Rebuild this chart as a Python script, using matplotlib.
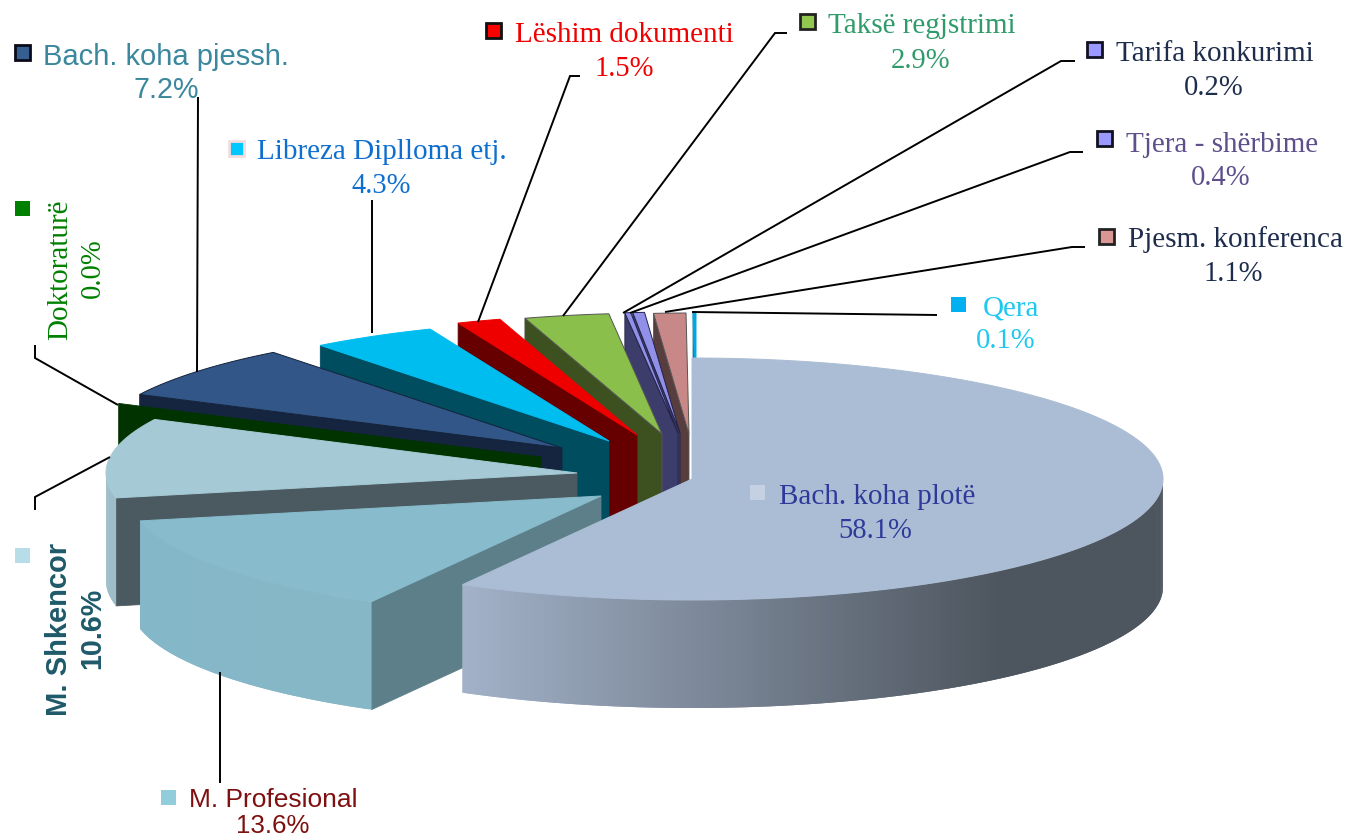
import numpy as np
import matplotlib
matplotlib.use("Agg")
import matplotlib.pyplot as plt
from matplotlib.patches import Polygon, Rectangle
from matplotlib.colors import to_rgb

# ---------- data ----------
categories = ["Bach. koha plotë", "M. Profesional", "M. Shkencor", "Doktoraturë",
              "Bach. koha pjessh.", "Libreza Diplloma etj.", "Lëshim dokumenti",
              "Taksë regjstrimi", "Tarifa konkurimi", "Tjera - shërbime",
              "Pjesm. konferenca", "Qera"]
values = [58.1, 13.6, 10.6, 0.0, 7.2, 4.3, 1.5, 2.9, 0.2, 0.4, 1.1, 0.1]

# ---------- styles ----------
explode_dx = [1, -90, -114, -150, -129, -82, -54, -29, -13, -11, -2, 5]
explode_dy = [0, 17, -6, -22, -31, -38, -44, -45, -46, -46, -45, -45]
top_colors = ["#abbdd4", "#88bccd", "#a6cad5", "#008000", "#315687", "#00bdf0",
              "#ee0000", "#89bf4a", "#9090e8", "#9090e8", "#c88888", "#00a8e0"]
side_colors = ["#5f6b78", "#5c7f89", "#4b5a60", "#003300", "#15253f", "#004d60",
               "#660000", "#3d5020", "#3d3d6b", "#3d3d6b", "#573d3d", "#006a90"]
rim_left = ["#a3b2c9", "#84b7c8", "#9dbdc9", "#003300", "#15253f", "#004d60",
            "#660000", "#3d5020", "#3d3d6b", "#3d3d6b", "#573d3d", "#006a90"]
rim_right = ["#4d555e", "#86b7c7", "#9dbdc9", "#003300", "#15253f", "#004d60",
             "#660000", "#3d5020", "#3d3d6b", "#3d3d6b", "#573d3d", "#006a90"]
edge_colors = [None, None, None, None, "#14233a", None, None, "#555555",
               "#22224a", "#22224a", "#555555", None]

CX, CY, RX, RY, DEPTH = 691, 479, 471, 121, 108

fig = plt.figure(figsize=(13.46, 8.38), dpi=100, facecolor="white")
ax = fig.add_axes([0, 0, 1, 1])
ax.set_xlim(0, 1346)
ax.set_ylim(838, 0)
ax.axis("off")

edges = np.cumsum([0] + values) / sum(values) * 360


def rim(theta, ox, oy):
    t = np.radians(theta)
    return ox + RX * np.sin(t), oy - RY * np.cos(t)


def mix(c0, c1, t):
    a, b = np.array(to_rgb(c0)), np.array(to_rgb(c1))
    return tuple(a + (b - a) * float(np.clip(t, 0, 1)))


def draw_slice(i):
    th0, th1 = edges[i], edges[i + 1]
    ox, oy = CX + explode_dx[i], CY + explode_dy[i]
    # cut wall on the starting edge
    sx, sy = rim(th0, ox, oy)
    if i > 0:
        ax.add_patch(Polygon([(ox, oy), (sx, sy), (sx, sy + DEPTH), (ox, oy + DEPTH)],
                             closed=True, fc=side_colors[i], ec=edge_colors[i] or side_colors[i],
                             lw=0.6))
    # front rim wall: overlapping strips so no seams show
    lo, hi = max(th0, 90), min(th1, 270)
    if hi > lo:
        ang = np.linspace(lo, hi, int((hi - lo) * 2) + 2)
        xs, ys = rim(ang, ox, oy)
        xmin = xs.min()
        xspan = 540 if i == 0 else max(abs(xs[-1] - xs[0]), 1)
        for k in range(len(ang) - 1):
            c = mix(rim_left[i], rim_right[i], (xs[k] - xmin) / xspan)
            e = min(k + 2, len(ang) - 1)
            top = list(zip(xs[k:e + 1], ys[k:e + 1]))
            bot = [(x, y + DEPTH) for x, y in reversed(top)]
            ax.add_patch(Polygon(top + bot, closed=True, fc=c, ec="none", lw=0))
    # top face
    if th1 > th0:
        ang = np.linspace(th0, th1, max(int((th1 - th0) * 2), 2) + 1)
        xs, ys = rim(ang, ox, oy)
        pts = [(ox, oy)] + list(zip(xs, ys))
        ax.add_patch(Polygon(pts, closed=True, fc=top_colors[i],
                             ec=edge_colors[i] or top_colors[i], lw=0.7))


# painter's order: back slices first, main slice last
for i in list(range(len(values) - 1, 0, -1)) + [0]:
    draw_slice(i)

# ---------- leader lines ----------
leaders = [
    [(198, 97), (197, 372)],
    [(372, 200), (372, 333)],
    [(580, 76), (570, 76), (478, 322)],
    [(787, 33), (775, 33), (563, 316)],
    [(1075, 61), (1061, 61), (623, 313)],
    [(1083, 152), (1070, 152), (630, 313)],
    [(1085, 247), (1072, 247), (665, 312)],
    [(937, 315), (692, 312)],
    [(35, 345), (35, 358), (118, 405)],
    [(35, 510), (35, 497), (110, 457)],
    [(220, 672), (220, 783)],
]
for seg in leaders:
    ax.plot(*zip(*seg), color="black", lw=1.4, solid_joinstyle="miter", solid_capstyle="butt")

# ---------- labels ----------
SERIF = "Liberation Serif"
SANS = "Liberation Sans"
pct = [f"{v:.1f}%" for v in values]
# index, x, y, pct x, pct y, color, family, size, rotation, weight
labels = [
    (0, 877, 497, 875, 531, "#2e3a9a", SERIF, 21, 0, "normal"),
    (1, 273, 800, 273, 826, "#7f1010", SANS, 19, 0, "normal"),
    (2, 59, 629, 92, 628, "#1f5a6a", SANS, 21, 90, "bold"),
    (3, 60, 270, 93, 268, "#008000", SERIF, 21, 90, "normal"),
    (4, 166, 57, 166, 90, "#3a879e", SANS, 21, 0, "normal"),
    (5, 382, 152, 381, 186, "#0f6fd0", SERIF, 21, 0, "normal"),
    (6, 624, 35, 624, 69, "#f00000", SERIF, 21, 0, "normal"),
    (7, 922, 26, 921, 61, "#2f9a6a", SERIF, 21, 0, "normal"),
    (8, 1215, 54, 1214, 88, "#1f2d4d", SERIF, 21, 0, "normal"),
    (9, 1222, 145, 1221, 178, "#5f4f8a", SERIF, 21, 0, "normal"),
    (10, 1235, 240, 1233, 274, "#1f2d4d", SERIF, 21, 0, "normal"),
    (11, 1011, 308, 1006, 341, "#1ec8f0", SERIF, 21, 0, "normal"),
]
for i, x, y, px, py, col, fam, size, rot, wt in labels:
    ax.text(x, y, categories[i], color=col, family=fam, fontsize=size, rotation=rot,
            weight=wt, ha="center", va="center")
    ax.text(px, py, pct[i], color=col, family=fam, fontsize=size * 0.98, rotation=rot,
            weight=wt, ha="center", va="center")

# legend keys: x, y, fill, border
keys = [
    (757, 492, "#c5d0e2", None), (168, 797, "#92cddc", None), (22, 555, "#b7dde8", None),
    (22, 208, "#008000", None), (22, 53, "#365f91", "#0a0a1a"), (236, 149, "#00c8ff", "#f2dede"),
    (493, 31, "#ff0000", "#111111"), (807, 22, "#92c84f", "#222222"), (1094, 50, "#9999ff", "#111122"),
    (1104, 139, "#9999ff", "#111122"), (1106, 236, "#d99694", "#222222"), (958, 304, "#00b0f0", None),
]
for x, y, fc, ec in keys:
    s = 15
    ax.add_patch(Rectangle((x - s / 2, y - s / 2), s, s, fc=fc, ec=ec or fc,
                           lw=2 if ec else 0, zorder=5))

fig.savefig("out.png", dpi=100, facecolor="white")
